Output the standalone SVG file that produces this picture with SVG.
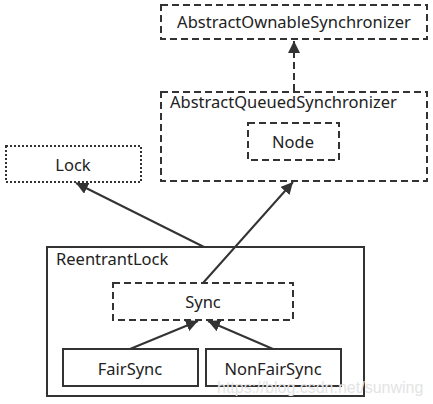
<svg xmlns="http://www.w3.org/2000/svg" width="433" height="404" viewBox="0 0 433 404">
<style>
.box{fill:none;stroke:#333;stroke-width:2}
.dash{stroke-dasharray:7 4}
.dot{stroke-dasharray:2 2}
text{font-family:"Noto Sans","Open Sans",sans-serif;font-size:16.5px;fill:#222}
.c{text-anchor:middle}
.line{stroke:#333;stroke-width:2;fill:none}
</style>
<defs>
<marker id="ah2" viewBox="0 0 10 10" refX="10" refY="5" markerWidth="12" markerHeight="12" markerUnits="userSpaceOnUse" orient="auto"><path d="M0,0 L10,5 L0,10 z" fill="#333"/></marker>
</defs>
<rect width="433" height="404" fill="#fff"/>
<g id="aos"><rect class="box dash" x="161" y="5" width="266" height="34"/><text class="c" x="294" y="28">AbstractOwnableSynchronizer</text></g>
<g id="aqs"><rect class="box dash" x="161" y="92" width="266" height="89"/><text x="170" y="108">AbstractQueuedSynchronizer</text></g>
<g id="node"><rect class="box dash" x="248" y="123" width="91" height="37"/><text class="c" x="293" y="148">Node</text></g>
<g id="lock"><rect class="box dot" x="6" y="146" width="135" height="36"/><text class="c" x="73" y="171">Lock</text></g>
<g id="reentrantlock"><rect class="box" x="47" y="247" width="317" height="149"/><text x="56" y="265">ReentrantLock</text></g>
<g id="sync"><rect class="box dash" x="113" y="283" width="180" height="37"/><text class="c" x="203" y="308">Sync</text></g>
<g id="fairsync"><rect class="box" x="63" y="349" width="135" height="37"/><text class="c" x="130" y="375">FairSync</text></g>
<g id="nonfairsync"><rect class="box" x="206" y="349" width="135" height="37"/><text class="c" x="273" y="375">NonFairSync</text></g>
<g id="connectors">
<line class="line dash" x1="294" y1="91" x2="294" y2="41" marker-end="url(#ah2)"/>
<line class="line" x1="204" y1="247" x2="76" y2="183" marker-end="url(#ah2)"/>
<line class="line" x1="203" y1="283" x2="293" y2="182" marker-end="url(#ah2)"/>
<line class="line" x1="130" y1="349" x2="198" y2="321" marker-end="url(#ah2)"/>
<line class="line" x1="273" y1="349" x2="208" y2="321" marker-end="url(#ah2)"/>
</g>
<text x="217" y="393" style="font-family:'Liberation Sans',sans-serif;font-size:16px;fill:#e4e4e4">https://blog.csdn.net/sunwing</text>
</svg>
